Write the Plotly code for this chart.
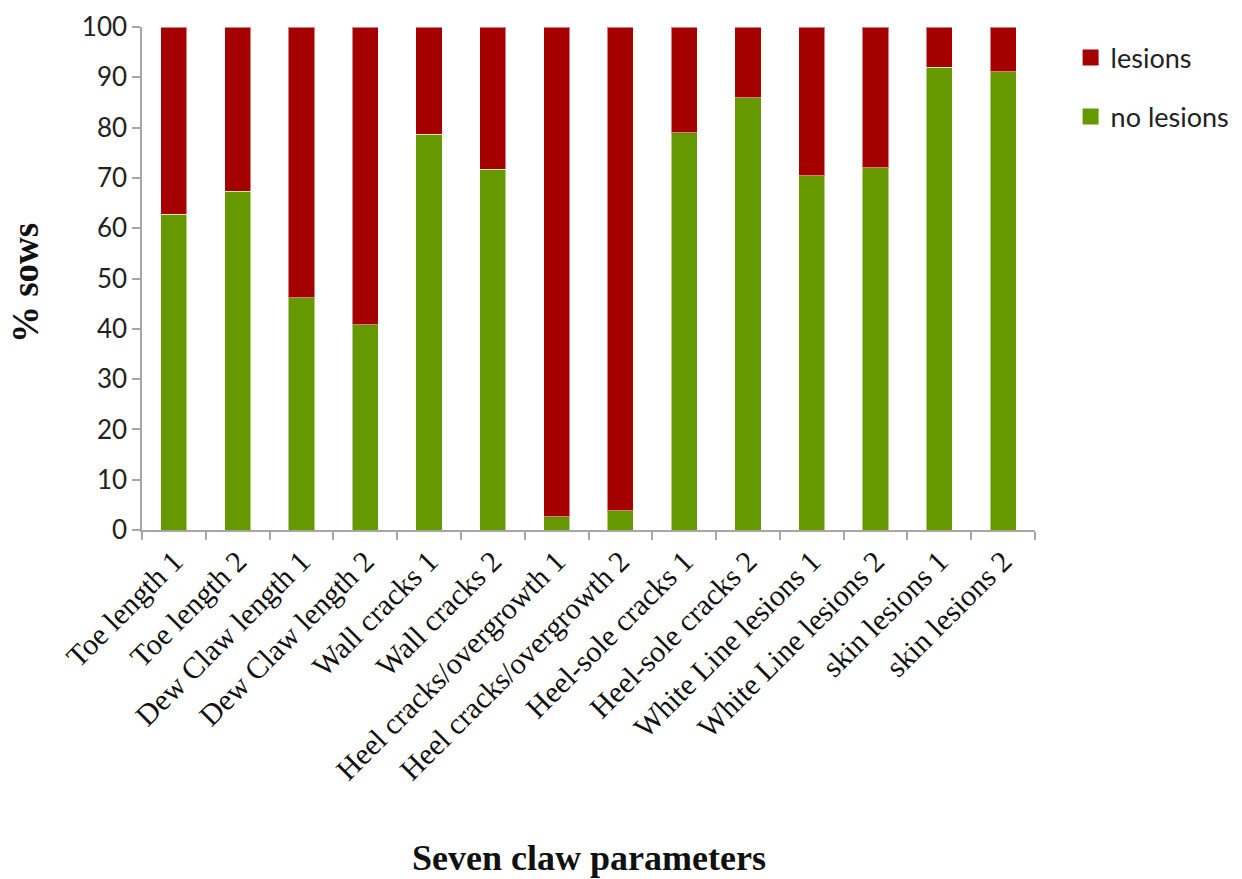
import plotly.graph_objects as go

# Claw parameters scored on each sow
categories = [
    "Toe length 1", "Toe length 2", "Dew Claw length 1", "Dew Claw length 2",
    "Wall cracks 1", "Wall cracks 2", "Heel cracks/overgrowth 1",
    "Heel cracks/overgrowth 2", "Heel-sole cracks 1", "Heel-sole cracks 2",
    "White Line lesions 1", "White Line lesions 2", "skin lesions 1", "skin lesions 2",
]

# Percentage of sows without lesions
no_lesions = [62.8, 67.3, 46.2, 40.8, 78.7, 71.7, 2.6, 3.8, 79.0, 85.9, 70.4, 72.0, 92.0, 91.1]
# Percentage of sows with lesions (remainder to 100 %)
lesions = [round(100 - v, 1) for v in no_lesions]

y_ticks = list(range(0, 101, 10))

GREEN = "#669900"
RED = "#A50000"
AXIS = "#A6A6A6"
SERIF = "Liberation Serif, Times New Roman, serif"
SANS = "Lato, Open Sans, sans-serif"

fig = go.Figure()
fig.add_trace(go.Bar(
    x=categories, y=no_lesions, name="no lesions", showlegend=False,
    marker=dict(color=GREEN, line=dict(color="rgba(255,255,255,0.5)", width=1)),
))
fig.add_trace(go.Bar(
    x=categories, y=lesions, name="lesions", showlegend=False,
    marker=dict(color=RED, line=dict(color="rgba(255,255,255,0.5)", width=1)),
))

# Legend entries with larger square swatches
for name, color, rank in [("lesions", RED, 1), ("no lesions", GREEN, 2)]:
    fig.add_trace(go.Scatter(
        x=[None], y=[None], mode="markers", name=name, legendrank=rank,
        legendgroup=name,
        marker=dict(symbol="square", size=18, color=color),
    ))

fig.update_layout(
    width=1242, height=879,
    margin=dict(l=142, r=207, t=27, b=349, autoexpand=False),
    paper_bgcolor="white", plot_bgcolor="white",
    barmode="stack", bargap=0.59,
    showlegend=True,
    legend=dict(
        xref="container", yref="container",
        x=0.862, y=0.962, xanchor="left", yanchor="top",
        traceorder="grouped", tracegroupgap=21,
        font=dict(family=SANS, size=27, color="#222222"),
        itemwidth=30,
    ),
    xaxis=dict(
        type="category", tickson="boundaries", tickangle=-45,
        ticks="outside", ticklen=8, tickcolor=AXIS, tickwidth=1.5,
        showline=True, linecolor=AXIS, linewidth=1.5,
        showgrid=False,
        tickfont=dict(family=SERIF, size=30, color="#111111"),
    ),
    yaxis=dict(
        range=[0, 100], tickvals=y_ticks,
        ticks="outside", ticklen=8, tickcolor=AXIS, tickwidth=1.5,
        showline=True, linecolor=AXIS, linewidth=1.5,
        showgrid=False, zeroline=False,
        tickfont=dict(family=SANS, size=26, color="#222222"),
    ),
    annotations=[
        dict(
            text="<b>% sows</b>", textangle=-90,
            xref="paper", yref="paper", x=-0.131, y=0.491,
            xanchor="center", yanchor="middle", showarrow=False,
            font=dict(family=SERIF, size=37, color="#111111"),
        ),
        dict(
            text="<b>Seven claw parameters</b>",
            xref="paper", yref="paper", x=0.5, y=-0.652,
            xanchor="center", yanchor="middle", showarrow=False,
            font=dict(family=SERIF, size=36, color="#111111"),
        ),
    ],
)

fig.write_html("out.html")
